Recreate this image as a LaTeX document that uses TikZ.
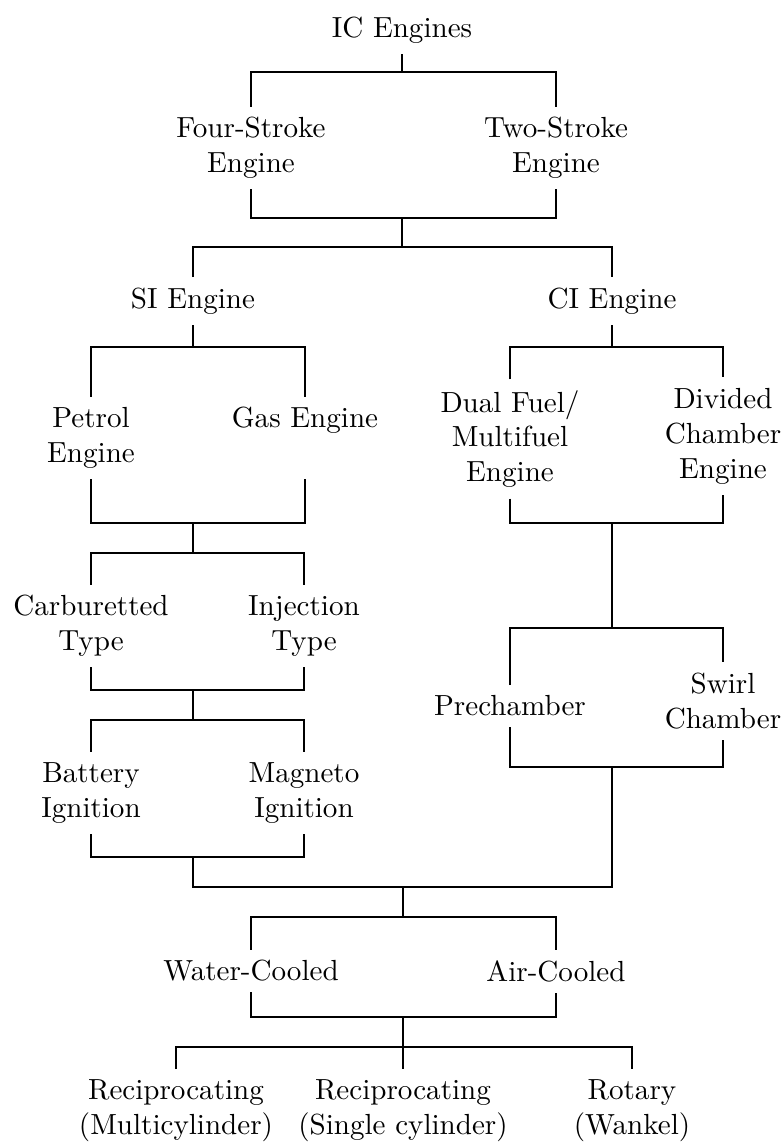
\documentclass[tikz,border=0pt]{standalone}
\usepackage{tikz}
\begin{document}
\begin{tikzpicture}[x=0.01209cm, y=-0.01209cm,
        item/.style={align=center, inner sep=3.5pt},
        link/.style={line width=0.6pt},
      ]
        \useasboundingbox (0,0) rectangle (782,1144);
        % engine types
        \node[item] (ic) at (402, 30)  {IC Engines};
        \node[item] (fs) at (251, 148) {Four-Stroke\\Engine};
        \node[item] (ts) at (556, 148) {Two-Stroke\\Engine};
        \node[item] (si) at (193, 301) {SI Engine};
        \node[item] (ci) at (612, 301) {CI Engine};
        % SI branch
        \node[item] (pe) at (91, 438)  {Petrol\\Engine};
        \node[item] (ge) at (305, 420) {Gas Engine};
        \node[item] (ct) at (91, 626)  {Carburetted\\Type};
        \node[item] (it) at (304, 626) {Injection\\Type};
        \node[item] (bi) at (91, 793)  {Battery\\Ignition};
        \node[item] (mi) at (304, 793) {Magneto\\Ignition};
        % CI branch
        \node[item] (df) at (510, 439) {Dual Fuel/\\Multifuel\\Engine};
        \node[item] (dc) at (723, 436) {Divided\\Chamber\\Engine};
        \node[item] (pc) at (510, 706) {Prechamber};
        \node[item] (sc) at (723, 701) {Swirl\\Chamber};
        % cooling and layout
        \node[item] (wc) at (251, 971) {Water-Cooled};
        \node[item] (ac) at (556, 971) {Air-Cooled};
        \node[item] (rm) at (176, 1111) {Reciprocating\\(Multicylinder)};
        \node[item] (rs) at (403, 1111) {Reciprocating\\(Single cylinder)};
        \node[item] (rw) at (632, 1111) {Rotary\\(Wankel)};

        \coordinate (b1) at (402, 72);
        \coordinate (b2) at (402, 218);
        \coordinate (b3) at (402, 247);
        \coordinate (s1) at (193, 347);
        \coordinate (s2) at (193, 523);
        \coordinate (s3) at (193, 553);
        \coordinate (s4) at (193, 690);
        \coordinate (s5) at (193, 720);
        \coordinate (s6) at (193, 857);
        \coordinate (c1) at (612, 347);
        \coordinate (c2) at (612, 523);
        \coordinate (c3) at (612, 628);
        \coordinate (c4) at (612, 767);
        \coordinate (m1) at (403, 887);
        \coordinate (m2) at (403, 917);
        \coordinate (m3) at (403, 1017);
        \coordinate (m4) at (403, 1047);

        \draw[link] (ic) -- (b1);
        \draw[link] (fs.north) |- (b1) -| (ts.north);
        \draw[link] (fs.south) |- (b2) -| (ts.south);
        \draw[link] (b2) -- (b3);
        \draw[link] (si.north) |- (b3) -| (ci.north);

        \draw[link] (si) -- (s1);
        \draw[link] (pe.north) |- (s1) -| (ge |- pe.north);
        \draw[link] (pe.south) |- (s2) -| (ge |- pe.south);
        \draw[link] (s2) -- (s3);
        \draw[link] (ct.north) |- (s3) -| (it.north);
        \draw[link] (ct.south) |- (s4) -| (it.south);
        \draw[link] (s4) -- (s5);
        \draw[link] (bi.north) |- (s5) -| (mi.north);
        \draw[link] (bi.south) |- (s6) -| (mi.south);

        \draw[link] (ci) -- (c1);
        \draw[link] (df.north) |- (c1) -| (dc.north);
        \draw[link] (df.south) |- (c2) -| (dc.south);
        \draw[link] (c2) -- (c3);
        \draw[link] (pc.north) |- (c3) -| (sc.north);
        \draw[link] (pc.south) |- (c4) -| (sc.south);

        \draw[link] (s6) |- (m1) -| (c4);
        \draw[link] (m1) -- (m2);
        \draw[link] (wc.north) |- (m2) -| (ac.north);
        \draw[link] (wc.south) |- (m3) -| (ac.south);
        \draw[link] (m3) -- (m4);
        \draw[link] (rm.north) |- (m4) -| (rw.north);
        \draw[link] (m4) -- (rs);
      \end{tikzpicture}
\end{document}
